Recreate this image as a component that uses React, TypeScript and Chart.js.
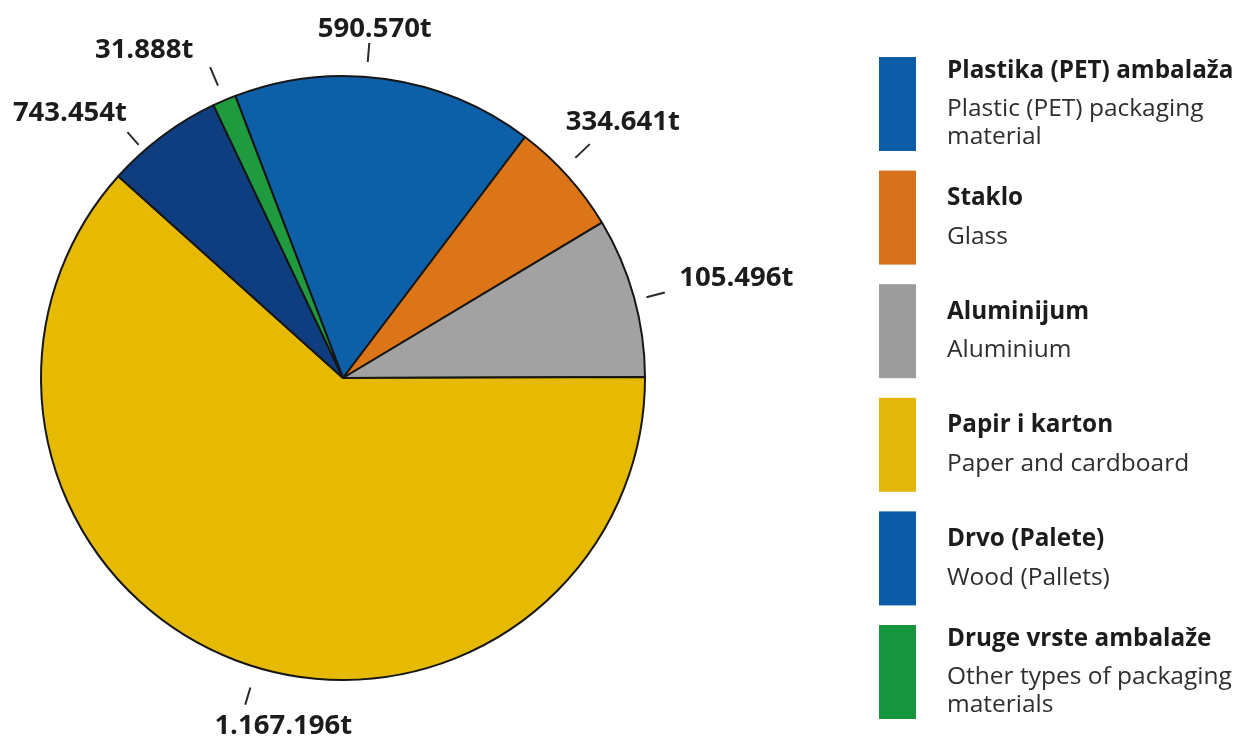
import React, { useEffect, useRef } from 'react';
import Chart from 'chart.js/auto';

// ---- data ----
const categories = [
  'Plastika (PET) ambalaža',
  'Staklo',
  'Aluminijum',
  'Papir i karton',
  'Drvo (Palete)',
  'Druge vrste ambalaže',
];
const subtitles = [
  ['Plastic (PET) packaging', 'material'],
  ['Glass'],
  ['Aluminium'],
  ['Paper and cardboard'],
  ['Wood (Pallets)'],
  ['Other types of packaging', 'materials'],
];
const tonnageLabels = ['590.570t', '334.641t', '105.496t', '1.167.196t', '743.454t', '31.888t'];
// share of the circle each slice occupies, as drawn (percent)
const sliceShares = [16.1, 6.1, 8.55, 61.7, 6.3, 1.25];

// ---- styles ----
const sliceColors = ['#0d5fa8', '#dc7517', '#a2a2a2', '#e6ba02', '#0f3e80', '#1f9a3e'];
const legendColors = ['#0c5ca7', '#d7711b', '#9c9c9c', '#e3b70a', '#0b5ba7', '#17963f'];
// label placement: angular nudge (deg), gap from rim, tick length, text offset from tick end
const labelLayout = [
  { nudge: -3.6, gap: 15, len: 19, dx: 5.5, dy: -6 },
  { nudge: -1.5, gap: 18, len: 20, dx: 33, dy: -14 },
  { nudge: 0.7, gap: 12, len: 19, dx: 71.5, dy: -6 },
  { nudge: -4.2, gap: 21, len: 18, dx: 38, dy: 29 },
  { nudge: -4.5, gap: 8, len: 17, dx: -57.5, dy: -11 },
  { nudge: 0, gap: 16, len: 20, dx: -66, dy: -9 },
];
const FONT = '"Open Sans", "Noto Sans", sans-serif';

const annotatePlugin = {
  id: 'annotate',
  afterDraw(chart: any) {
    const ctx = chart.ctx;
    const meta = chart.getDatasetMeta(0);
    ctx.save();
    // tonnage labels with leader ticks
    meta.data.forEach((arc: any, i: number) => {
      const p = arc.getProps(['x', 'y', 'startAngle', 'endAngle', 'outerRadius'], true);
      const L = labelLayout[i];
      const a = (p.startAngle + p.endAngle) / 2 + (L.nudge * Math.PI) / 180;
      const r1 = p.outerRadius + L.gap;
      const r2 = r1 + L.len;
      const x1 = p.x + Math.cos(a) * r1;
      const y1 = p.y + Math.sin(a) * r1;
      const x2 = p.x + Math.cos(a) * r2;
      const y2 = p.y + Math.sin(a) * r2;
      ctx.strokeStyle = '#2a2a2a';
      ctx.lineWidth = 2;
      ctx.beginPath();
      ctx.moveTo(x1, y1);
      ctx.lineTo(x2, y2);
      ctx.stroke();
      ctx.fillStyle = '#1c1c1c';
      ctx.font = `bold 27.5px ${FONT}`;
      ctx.textAlign = 'center';
      ctx.textBaseline = 'alphabetic';
      ctx.fillText(tonnageLabels[i], x2 + L.dx, y2 + L.dy);
    });

    // legend
    const boxX = 879;
    const boxW = 37;
    const boxH = 94;
    const top0 = 57;
    const step = 113.6;
    const textX = 947;
    categories.forEach((cat, i) => {
      const top = top0 + step * i;
      ctx.fillStyle = legendColors[i];
      ctx.fillRect(boxX, top, boxW, boxH);
      const subs = subtitles[i];
      const blockH = 38.5 + (subs.length - 1) * 28;
      const cy = top + boxH / 2;
      let y = cy - blockH / 2;
      ctx.textAlign = 'left';
      ctx.textBaseline = 'middle';
      ctx.fillStyle = '#1c1c1c';
      ctx.font = `bold 24.3px ${FONT}`;
      ctx.fillText(cat, textX, y);
      y += 38.5;
      ctx.fillStyle = '#2e2e2e';
      ctx.font = `24.5px ${FONT}`;
      subs.forEach((s) => {
        ctx.fillText(s, textX, y);
        y += 28;
      });
    });
    ctx.restore();
  },
};

export default function App() {
  const ref = useRef<HTMLCanvasElement | null>(null);
  useEffect(() => {
    document.body.style.margin = '0';
    const chart = new Chart(ref.current as HTMLCanvasElement, {
      type: 'pie',
      data: {
        labels: categories,
        datasets: [
          {
            data: sliceShares,
            backgroundColor: sliceColors,
            borderColor: '#161616',
            borderWidth: 2,
          },
        ],
      },
      options: {
        responsive: false,
        animation: false,
        rotation: -20.9,
        layout: { padding: { left: 40, right: 590, top: 75, bottom: 58 } },
        plugins: {
          legend: { display: false },
          tooltip: { enabled: false },
          title: { display: false },
        },
      },
      plugins: [annotatePlugin],
    });
    return () => chart.destroy();
  }, []);
  return (
    <div style={{ position: 'absolute', left: 0, top: 0, width: 1236, height: 739, background: '#fff' }}>
      <canvas ref={ref} width={1236} height={739} style={{ display: 'block' }} />
    </div>
  );
}
